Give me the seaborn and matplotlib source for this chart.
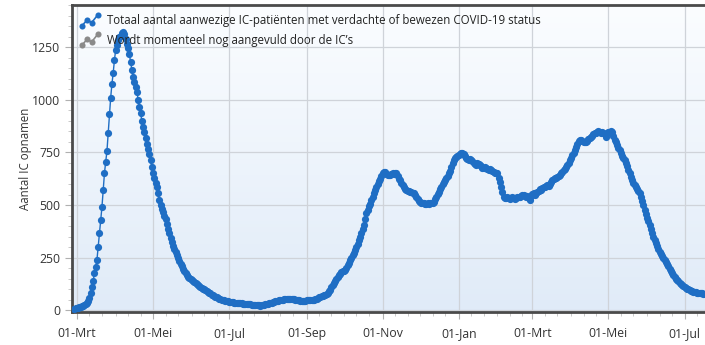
import numpy as np
import pandas as pd
import matplotlib
matplotlib.use("Agg")
import matplotlib.pyplot as plt
import matplotlib.dates as mdates
from matplotlib.ticker import FuncFormatter, MultipleLocator
from matplotlib.legend_handler import HandlerBase
from matplotlib.lines import Line2D
import seaborn as sns

# Daily number of ICU patients with suspected or confirmed COVID-19, per month
feb_2020 = [8, 10]
mrt_2020 = [12, 13, 15, 17, 19, 22, 25, 29, 34, 45, 60, 82, 110, 140, 175, 205,
            240, 300, 365, 428, 490, 570, 650, 705, 755, 840, 930, 1010, 1075,
            1126, 1188]
apr_2020 = [1236, 1260, 1283, 1296, 1305, 1315, 1320, 1310, 1290, 1267, 1245,
            1215, 1180, 1140, 1109, 1085, 1060, 1038, 1000, 965, 935, 900, 871,
            845, 818, 792, 765, 740, 712, 680]
mei_2020 = [650, 628, 606, 586, 555, 525, 500, 482, 465, 450, 432, 410, 388, 365,
            345, 325, 305, 290, 275, 262, 248, 232, 220, 210, 198, 186, 175, 166,
            160, 154, 149]
jun_2020 = [143, 137, 133, 128, 124, 120, 116, 111, 107, 103, 99, 95, 91, 87, 84,
            80, 75, 71, 68, 65, 62, 59, 56, 54, 51, 48, 47, 45, 44, 43]
jul_2020 = [41, 40, 39, 38, 37, 36, 35, 35, 34, 33, 33, 32, 31, 31, 30, 29, 29,
            28, 27, 27, 26, 25, 24, 23, 23, 22, 24, 26, 27, 29, 30]
aug_2020 = [32, 34, 35, 37, 38, 40, 42, 43, 45, 47, 48, 50, 51, 52, 54, 55, 56,
            55, 55, 54, 52, 53, 51, 49, 48, 47, 46, 45, 44, 45, 46]
sep_2020 = [47, 48, 47, 49, 50, 50, 51, 53, 55, 58, 61, 64, 66, 70, 72, 75, 79,
            84, 90, 97, 110, 122, 131, 140, 150, 158, 166, 174, 180, 185]
okt_2020 = [188, 192, 200, 213, 226, 238, 250, 262, 274, 285, 300, 316, 332, 348,
            368, 388, 404, 432, 460, 478, 494, 507, 523, 540, 556, 570, 585, 598,
            612, 626, 640]
nov_2020 = [652, 657, 655, 648, 645, 643, 642, 648, 652, 646, 650, 650, 638, 626,
            618, 605, 594, 585, 578, 570, 567, 565, 562, 560, 557, 555, 548, 538,
            528, 520]
dec_2020 = [515, 511, 509, 508, 507, 507, 509, 506, 510, 512, 512, 515, 528, 540,
            552, 562, 575, 588, 600, 610, 620, 630, 640, 650, 660, 680, 700, 713,
            721, 728, 735]
jan_2021 = [737, 742, 745, 745, 740, 733, 725, 718, 713, 720, 716, 708, 700, 694,
            690, 698, 693, 689, 684, 678, 675, 682, 676, 670, 667, 673, 668, 660,
            655, 650, 652]
feb_2021 = [650, 630, 610, 585, 560, 539, 535, 533, 536, 532, 531, 534, 537, 533,
            529, 532, 536, 540, 538, 545, 550, 547, 543, 540, 545, 535, 523, 545]
mrt_2021 = [552, 555, 550, 558, 562, 568, 575, 572, 580, 586, 584, 590, 596, 592,
            602, 610, 618, 624, 628, 630, 634, 640, 642, 650, 658, 665, 672, 680,
            690, 700, 713]
apr_2021 = [725, 738, 748, 760, 775, 790, 803, 808, 810, 805, 800, 797, 800, 806,
            812, 816, 822, 830, 836, 840, 843, 846, 850, 847, 844, 846, 842, 838,
            825, 840]
mei_2021 = [845, 848, 850, 847, 830, 810, 798, 785, 772, 760, 748, 735, 725, 713,
            700, 685, 668, 650, 632, 618, 605, 594, 585, 575, 566, 555, 538, 520,
            498, 475, 458]
jun_2021 = [440, 422, 404, 386, 368, 350, 333, 318, 304, 290, 277, 268, 258, 249,
            240, 230, 222, 210, 198, 187, 176, 166, 158, 150, 144, 138, 132, 127,
            122, 117]
jul_2021 = [113, 108, 103, 99, 96, 93, 90, 88, 86, 85, 83, 82, 81, 80, 80, 79,
            79, 78]

first_day = "2020-02-28"
y_ticks = [0, 250, 500, 750, 1000, 1250]
dutch_months = {1: "Jan", 3: "Mrt", 5: "Mei", 7: "Jul", 9: "Sep", 11: "Nov"}

label_main = "Totaal aantal aanwezige IC-patiënten met verdachte of bewezen COVID-19 status"
label_pending = "Wordt momenteel nog aangevuld door de IC\u2019s"

values = (feb_2020 + mrt_2020 + apr_2020 + mei_2020 + jun_2020 + jul_2020 +
          aug_2020 + sep_2020 + okt_2020 + nov_2020 + dec_2020 + jan_2021 +
          feb_2021 + mrt_2021 + apr_2021 + mei_2021 + jun_2021 + jul_2021)
df = pd.DataFrame({
    "datum": pd.date_range(first_day, periods=len(values), freq="D"),
    "patienten": values,
})

BLUE = "#1f6ec4"
GREY = "#8a8a8a"

sns.set_theme(style="white")
plt.rcParams["font.family"] = ["Open Sans", "DejaVu Sans"]

fig = plt.figure(figsize=(7.05, 3.45), dpi=100)
ax = fig.add_axes([72 / 705, 1 - 312 / 345, (712 - 72) / 705, (312 - 5) / 345])

# soft blue-to-white background gradient
grad = np.linspace(0, 1, 256).reshape(-1, 1)
cmap = matplotlib.colors.LinearSegmentedColormap.from_list(
    "bg", ["#e0ebf8", "#fbfdff"])
ax.imshow(grad, extent=[0, 1, 0, 1], transform=ax.transAxes, origin="lower",
          cmap=cmap, aspect="auto", zorder=0)

sns.lineplot(data=df, x="datum", y="patienten", ax=ax, color=BLUE, linewidth=1.0,
             marker="o", markersize=5.2, markeredgewidth=0, zorder=3)

ax.set_xlim(pd.Timestamp("2020-02-26"), pd.Timestamp("2021-07-23"))
ax.set_ylim(-8, 1450)

ax.xaxis.set_major_locator(mdates.MonthLocator(bymonth=[1, 3, 5, 7, 9, 11]))
ax.xaxis.set_minor_locator(mdates.DayLocator(bymonthday=[1, 11, 21]))
ax.xaxis.set_major_formatter(
    FuncFormatter(lambda v, pos: "01-" + dutch_months.get(mdates.num2date(v).month, "")))
ax.set_yticks(y_ticks)
ax.yaxis.set_minor_locator(MultipleLocator(50))

ax.grid(True, which="major", color="#cfd3d9", linewidth=0.9, zorder=1)
ax.set_axisbelow(True)

for side in ["left", "bottom", "top"]:
    ax.spines[side].set_color("#4a4a4a")
    ax.spines[side].set_linewidth(2.0)
ax.spines["right"].set_visible(False)

ax.tick_params(axis="both", which="major", labelsize=8.8, colors="#b0b0b0",
               labelcolor="#333333", length=5, width=0.8, direction="out",
               left=True, bottom=True)
ax.tick_params(axis="both", which="minor", colors="#c0c0c0", length=3, width=0.6,
               direction="out", left=True, bottom=True)
ax.tick_params(axis="x", pad=6)

ax.set_xlabel("")
ax.set_ylabel("Aantal IC opnamen", fontsize=8.3, color="#333333", labelpad=0)


class ZigzagHandler(HandlerBase):
    def create_artists(self, legend, orig_handle, xdescent, ydescent, width,
                       height, fontsize, trans):
        xs = np.array([0.05, 0.35, 0.6, 0.95]) * width - xdescent
        ys = np.array([0.05, 0.55, 0.3, 0.95]) * height - ydescent
        line = Line2D(xs, ys, color=orig_handle.get_color(), linewidth=1.2,
                      marker="o", markersize=4.4, markeredgewidth=0,
                      transform=trans)
        return [line]


handles = [Line2D([], [], color=BLUE), Line2D([], [], color=GREY)]
ax.legend(handles, [label_main, label_pending], loc="upper left",
          bbox_to_anchor=(0.0, 1.0), frameon=False, fontsize=8.3,
          handler_map={Line2D: ZigzagHandler()}, handlelength=1.5,
          handleheight=1.2, handletextpad=0.75, labelspacing=0.55,
          borderaxespad=0.4)
for t in ax.get_legend().get_texts():
    t.set_color("#222222")

fig.savefig("out.png", dpi=100)
